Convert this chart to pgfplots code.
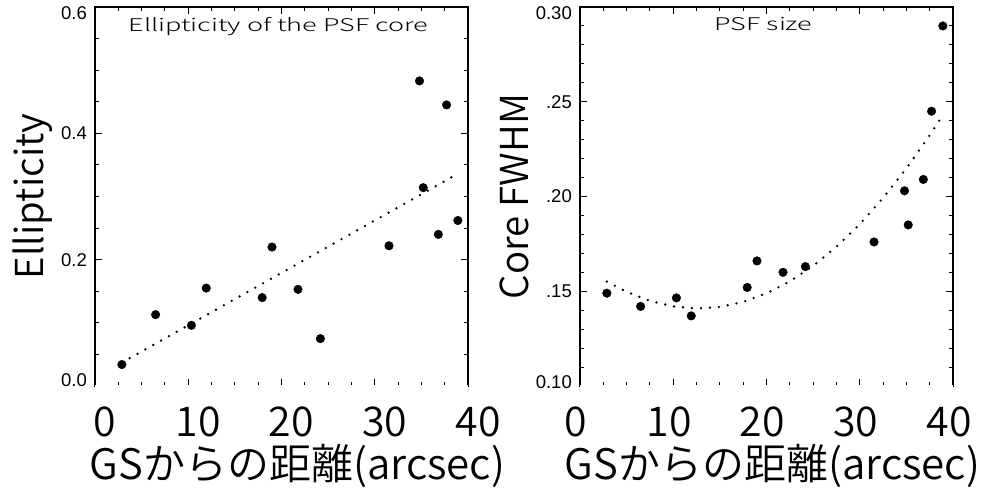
\documentclass[border=0pt]{standalone}
\usepackage{fontspec}
\setmainfont{Liberation Sans}
\newfontfamily\jp{Noto Sans CJK JP DemiLight}
\newfontfamily\titlefont{Noto Sans CJK JP Light}
\usepackage{graphicx}
\usepackage{pgfplots}
\pgfplotsset{compat=1.18}

\pgfplotstableread{
x      ell    fwhm
2.88   0.034  0.149
6.50   0.113  0.142
10.34  0.096  0.1465
11.93  0.155  0.137
17.93  0.140  0.152
18.98  0.220  0.166
21.77  0.153  0.160
24.17  0.075  0.163
31.53  0.222  0.176
34.80  0.483  0.203
35.20  0.314  0.185
36.82  0.240  0.209
37.70  0.445  0.245
38.91  0.262  0.290
}\psfdata

\pgfplotsset{
  panel/.style={
    scale only axis, width=373pt, height=379pt,
    xmin=0, xmax=40, xtick={0,10,20,30,40}, xticklabels={0,10,20,30,40},
    minor x tick num=3,
    tick align=inside, major tick length=7pt, minor tick length=4pt,
    axis line style={line width=1.1pt},
    every tick/.style={black, line width=0.9pt},
    xticklabel style={font=\jp\fontsize{41}{48}\selectfont, anchor=base, inner sep=0pt, yshift=-50pt},
    yticklabel style={font=\fontsize{18.5}{20}\selectfont, anchor=east, inner sep=0pt, xshift=-8pt},
    xlabel style={font=\jp\fontsize{42}{48}\selectfont, at={(axis description cs:0.5,0)}, anchor=base, inner sep=0pt, yshift=-93pt},
    ylabel style={font=\jp\fontsize{38.5}{44}\selectfont, at={(axis description cs:-0.1394,0.5)}, anchor=base, inner sep=0pt},
    title style={font=\titlefont\fontsize{17.5}{20}\selectfont, at={(axis description cs:0.5,1)}, anchor=base, inner sep=0pt, yshift=-30pt, xshift=-3pt},
    xlabel={GSからの距離(arcsec)},
  },
  pts/.style={only marks, mark=*, mark size=4.3pt, black},
  fit/.style={black, line width=2.6pt, line cap=round, dash pattern=on 0pt off 9pt},
}

\begin{document}
\begin{tikzpicture}
\begin{axis}[panel, at={(95pt,107pt)}, anchor=south west,
  ymin=0, ymax=0.6, ytick={0,0.2,0.4,0.6}, minor y tick num=3,
  yticklabels={\raisebox{6pt}[\height][\depth]{0.0},0.2,0.4,\raisebox{-6pt}[\height][\depth]{0.6}},
  xticklabel style={xshift=10pt},
  xlabel style={xshift=16pt},
  ylabel={Ellipticity},
  title={\resizebox{300pt}{\height}{Ellipticity of the PSF core}}]
\addplot[fit] coordinates {(2.88,0.037) (38.91,0.336)};
\addplot[pts] table[x=x,y=ell] {\psfdata};
\draw[white, line width=1.6pt] (axis description cs:0,0) -- (axis description cs:1,0);
\end{axis}
\begin{axis}[panel, at={(580pt,107pt)}, anchor=south west,
  ymin=0.10, ymax=0.30, ytick={0.10,0.15,0.20,0.25,0.30}, minor y tick num=4,
  yticklabels={\raisebox{4pt}[\height][\depth]{0.10},.15,.20,.25,\raisebox{-6pt}[\height][\depth]{0.30}},
  xticklabel style={xshift=-4pt},
  xlabel style={xshift=6pt},
  ylabel={Core FWHM},
  title={\resizebox{98pt}{\height}{PSF size}}]
\addplot[fit] coordinates {(2.88,0.1551) (5,0.1497) (7.5,0.1449) (10,0.1420) (12.5,0.1409) (15,0.1417) (17.5,0.1444) (20,0.1489) (22.5,0.1552) (25,0.1634) (27.5,0.1735) (30,0.1854) (32.5,0.1992) (35,0.2148) (37.5,0.2323) (38.91,0.2430)};
\addplot[pts] table[x=x,y=fwhm] {\psfdata};
\draw[white, line width=1.6pt] (axis description cs:0,0) -- (axis description cs:1,0);
\end{axis}
\pgfresetboundingbox
\path (0pt,0pt) rectangle (983pt,493pt);
\end{tikzpicture}
\end{document}
